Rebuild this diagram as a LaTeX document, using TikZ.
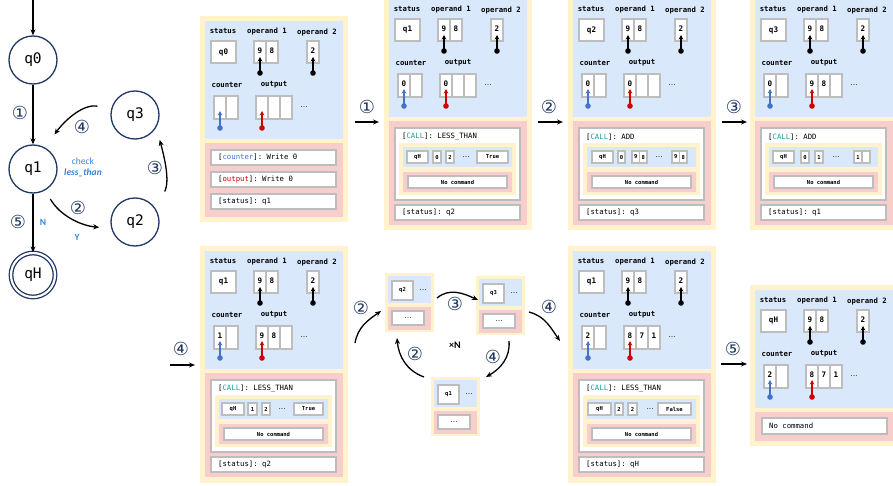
\documentclass[tikz,border=0pt]{standalone}
\usepackage{fontspec}
\setmainfont{Carlito}
\setmonofont{DejaVu Sans Mono}
\newfontfamily\circfont{DejaVu Sans}
\usetikzlibrary{arrows.meta}
\definecolor{ylw}{HTML}{FFF2CC}
\definecolor{blu}{HTML}{DAE8FC}
\definecolor{rd}{HTML}{F8CECC}
\definecolor{cellgray}{HTML}{BDBDBD}
\definecolor{navy}{HTML}{1F3864}
\definecolor{txtblue}{HTML}{3C84D8}
\definecolor{ptrblue}{HTML}{4472C4}
\definecolor{ptrred}{HTML}{D00000}
\definecolor{callteal}{HTML}{1E9E9E}
\newcommand{\ellip}{{\circfont\fontsize{7}{8}\selectfont …}}
\tikzset{
  cellst/.style={draw=cellgray, fill=white, line width=1.6pt},
  icell/.style={draw=cellgray, fill=white, line width=1.1pt},
  lbl/.style={font=\ttfamily\bfseries\fontsize{7.3}{8}\selectfont, inner sep=0pt},
  val/.style={font=\ttfamily\bfseries\fontsize{7.6}{8}\selectfont, inner sep=0pt},
  cmd/.style={font=\ttfamily\fontsize{7.3}{8}\selectfont, inner sep=0pt, anchor=west},
  tinyt/.style={font=\ttfamily\bfseries\fontsize{5.5}{6}\selectfont, inner sep=0pt},
  st/.style={circle, draw=navy, line width=1.3pt, minimum size=48pt, inner sep=0pt, font=\ttfamily\fontsize{14.5}{16}\selectfont},
  arr/.style={-{Stealth[length=6pt,width=5pt]}, line width=1.3pt},
  parr/.style={-{Stealth[length=4.5pt,width=4.5pt]}, line width=1.4pt},
  num/.style={font=\circfont\fontsize{18}{18}\selectfont, text=navy, inner sep=0pt},
  bluet/.style={font=\bfseries\fontsize{9.5}{10}\selectfont, text=txtblue, inner sep=0pt},
}
\newcommand{\ptr}[4]{\fill[#1] (#2,#3) circle (2.8); \draw[parr,#1] (#2,#3) -- (#2,#4);}
% top block: x, y (blue top-left), status, counter, out1, out2, out3
\newcommand{\topblk}[7]{%
\begin{scope}[shift={(#1,#2)}]
 \fill[blu] (0,0) rectangle (138,118);
 \node[lbl] at (18,10) {status};
 \node[lbl] at (62,10) {operand 1};
 \node[lbl] at (112,11) {operand 2};
 \draw[cellst] (6,20) rectangle (31,42);
 \draw[cellst] (49,20) rectangle (61,42);
 \draw[cellst] (61,20) rectangle (73,42);
 \draw[cellst] (102,20) rectangle (114,42);
 \ptr{black}{55}{52}{36}
 \ptr{black}{108}{52}{36}
 \node[val] at (18.5,31) {#3};
 \node[val] at (55,30) {9};
 \node[val] at (67,30) {8};
 \node[val] at (108,30) {2};
 \node[lbl] at (22,64) {counter};
 \node[lbl] at (69,64) {output};
 \draw[cellst] (9,75) rectangle (21,98);
 \draw[cellst] (21,75) rectangle (33,98);
 \draw[cellst] (51,75) rectangle (63,98);
 \draw[cellst] (63,75) rectangle (75,98);
 \draw[cellst] (75,75) rectangle (87,98);
 \ptr{ptrblue}{15}{107}{90}
 \ptr{ptrred}{57}{107}{90}
 \node[val] at (15,85) {#4};
 \node[val] at (57,85) {#5};
 \node[val] at (69,85) {#6};
 \node[val] at (81,85) {#7};
 \node at (99,86) {\ellip};
\end{scope}}
\newcommand{\ic}[3]{\draw[icell] (#1,30) rectangle (#2,42); \node[tinyt] at ({(#1+#2)/2},36) {#3};}
% call block: x, y (red top-left), function, inner items, status
\newcommand{\callblk}[5]{%
\begin{scope}[shift={(#1,#2)}]
 \fill[rd] (0,0) rectangle (138,104);
 \draw[cellst] (6,7) rectangle (131,79);
 \node[cmd] at (13,16) {[\textcolor{callteal}{CALL}]: #3};
 \fill[ylw] (10,22) rectangle (127,74);
 \fill[blu] (14,26) rectangle (123,46);
 \fill[rd] (14,51) rectangle (123,71);
 \draw[icell] (19,55) rectangle (118,67);
 \node[tinyt] at (68.5,61) {No command};
 #4
 \draw[cellst] (6,84) rectangle (131,99);
 \node[cmd] at (13,91.5) {[status]: #5};
\end{scope}}
\newcommand{\mini}[3]{%
\begin{scope}[shift={(#1,#2)}]
 \fill[ylw] (0,0) rectangle (49,59);
 \fill[blu] (3,3) rectangle (46,30);
 \fill[rd] (3,34) rectangle (46,57);
 \draw[icell] (7,8) rectangle (28,27);
 \node[tinyt] at (17.5,17.5) {#3};
 \node at (38,17) {\ellip};
 \draw[icell] (7,38) rectangle (39,52);
 \node at (23,45) {\ellip};
\end{scope}}
\begin{document}
\begin{tikzpicture}[x=1pt,y=-1pt]
\clip (0,0) rectangle (893,486);
\fill[white] (0,0) rectangle (893,486);

% ---------------- state machine
\node[st] (q0) at (33,60) {q0};
\node[st] (q1) at (33,169) {q1};
\node[st, minimum size=44pt, double=white, double distance=2.2pt] (qH) at (33,275) {qH};
\node[st] (q3) at (135,115) {q3};
\node[st] (q2) at (135,222) {q2};
\coordinate (start) at (33,-2);
\draw[arr] (start) -- (q0);
\draw[arr] (q0) -- (q1);
\draw[arr] (q1) -- (qH);
\draw[arr, shorten <=10pt, shorten >=12pt] (q1.-60) to[out=-60, in=175] (q2.195);
\draw[arr, shorten <=20pt, shorten >=13pt] (q2.30) to[out=65, in=-75] (q3.-30);
\draw[arr, shorten <=14pt, shorten >=16pt] (q3.165) to[out=170, in=55] (q1.60);
\node[num] (n1) at (20,113) {①};
\node[num] (n5) at (18,222) {⑤};
\node[bluet] (tN) at (43,222) {N};
\node[num] (n2) at (78,208) {②};
\node[bluet] (tY) at (77,237) {Y};
\node[num] (n3) at (155,168) {③};
\node[num] (n4) at (82,127) {④};
\node[bluet, font=\fontsize{9.5}{10}\selectfont] (tc) at (83,161) {check};
\node[bluet, font=\bfseries\itshape\fontsize{9.5}{10}\selectfont] (tl) at (83,173) {less\_than};

% ---------------- top row
% panel 1
\fill[ylw] (200,16) rectangle (348,222);
\topblk{205}{21}{q0}{}{}{}{}
\fill[rd] (205,143) rectangle (343,217);
\draw[cellst] (211,150) rectangle (336,165);
\node[cmd] at (218,157.5) {[\textcolor{ptrblue}{counter}]: Write 0};
\draw[cellst] (211,172) rectangle (336,187);
\node[cmd] at (218,179.5) {[\textcolor{ptrred}{output}]: Write 0};
\draw[cellst] (211,194) rectangle (336,209);
\node[cmd] at (218,201.5) {[status]: q1};

% panel 2
\fill[ylw] (384,-6) rectangle (532,230);
\topblk{389}{-1}{q1}{0}{0}{}{}
\callblk{389}{121}{LESS\_THAN}{\ic{18}{39}{qH}\ic{44}{52}{0}\ic{57}{65}{2}\node at (77,36) {\ellip};\ic{88}{119}{True}}{q2}

% panel 3
\fill[ylw] (568,-6) rectangle (716,230);
\topblk{573}{-1}{q2}{0}{0}{}{}
\callblk{573}{121}{ADD}{\ic{19}{40}{qH}\ic{45}{52}{0}\ic{59}{66.5}{9}\ic{66.5}{74}{8}\node at (86,36) {\ellip};\ic{99}{106.5}{9}\ic{106.5}{114}{8}}{q3}

% panel 4
\fill[ylw] (750,-6) rectangle (898,230);
\topblk{755}{-1}{q3}{0}{9}{8}{}
\callblk{755}{121}{ADD}{\ic{18}{39}{qH}\ic{46}{54}{0}\ic{60}{68}{1}\node at (81,36) {\ellip};\ic{99}{107}{1}\ic{107}{115}{}}{q1}

% top arrows
\coordinate (t1s) at (355,122); \coordinate (t1e) at (379,122);
\coordinate (t2s) at (538,122); \coordinate (t2e) at (563,122);
\coordinate (t3s) at (722,122); \coordinate (t3e) at (747,122);
\draw[arr] (t1s) -- (t1e); \node[num] (m1) at (367,107) {①};
\draw[arr] (t2s) -- (t2e); \node[num] (m2) at (549,107) {②};
\draw[arr] (t3s) -- (t3e); \node[num] (m3) at (734,107) {③};

% ---------------- bottom row
% panel 1
\fill[ylw] (200,246) rectangle (348,483);
\topblk{205}{251}{q1}{1}{9}{8}{}
\callblk{205}{373}{LESS\_THAN}{\ic{17}{39}{qH}\ic{43}{52}{1}\ic{57}{65}{2}\node at (77,36) {\ellip};\ic{89}{118}{True}}{q2}

% panel 3
\fill[ylw] (568,246) rectangle (716,483);
\topblk{573}{251}{q1}{2}{8}{7}{1}
\callblk{573}{373}{LESS\_THAN}{\ic{15}{38}{qH}\ic{42}{50}{2}\ic{55}{64}{2}\node at (77,36) {\ellip};\ic{85}{118}{False}}{qH}

% panel 4
\fill[ylw] (750,285) rectangle (898,446);
\topblk{755}{290}{qH}{2}{8}{7}{1}
\fill[rd] (755,412) rectangle (893,441);
\draw[cellst] (762,418) rectangle (887,434);
\node[cmd] at (769,426) {No command};

% middle cycle
\mini{385}{273}{q2}
\mini{476}{276}{q3}
\mini{431}{377}{q1}
\node[font=\fontsize{10}{10}\selectfont\bfseries, inner sep=0pt] (xN) at (455,345) {×N};

\coordinate (b4s) at (170,365); \coordinate (b4e) at (195,365);
\draw[arr] (b4s) -- (b4e); \node[num] (k4) at (181,349) {④};

\coordinate (c2s) at (355,343); \coordinate (c2e) at (381,311);
\draw[arr] (c2s) to[out=80, in=-145] (c2e); \node[num] (k2a) at (361,308) {②};
\coordinate (c3s) at (437,298); \coordinate (c3e) at (478,300);
\draw[arr] (c3s) to[out=40, in=155] (c3e); \node[num] (k3) at (455,304) {③};
\coordinate (c4s) at (529,312); \coordinate (c4e) at (560,341);
\draw[arr] (c4s) to[out=-15, in=125] (c4e); \node[num] (k4b) at (549,307) {④};
\coordinate (c5s) at (509,341); \coordinate (c5e) at (486,377);
\draw[arr] (c5s) to[out=-85, in=30] (c5e); \node[num] (k4c) at (493,357) {④};
\coordinate (c6s) at (424,377); \coordinate (c6e) at (397,338);
\draw[arr] (c6s) to[out=160, in=-85] (c6e); \node[num] (k2b) at (415,354) {②};

\coordinate (b5s) at (721,364); \coordinate (b5e) at (747,364);
\draw[arr] (b5s) -- (b5e); \node[num] (k5) at (733,349) {⑤};
\end{tikzpicture}
\end{document}
